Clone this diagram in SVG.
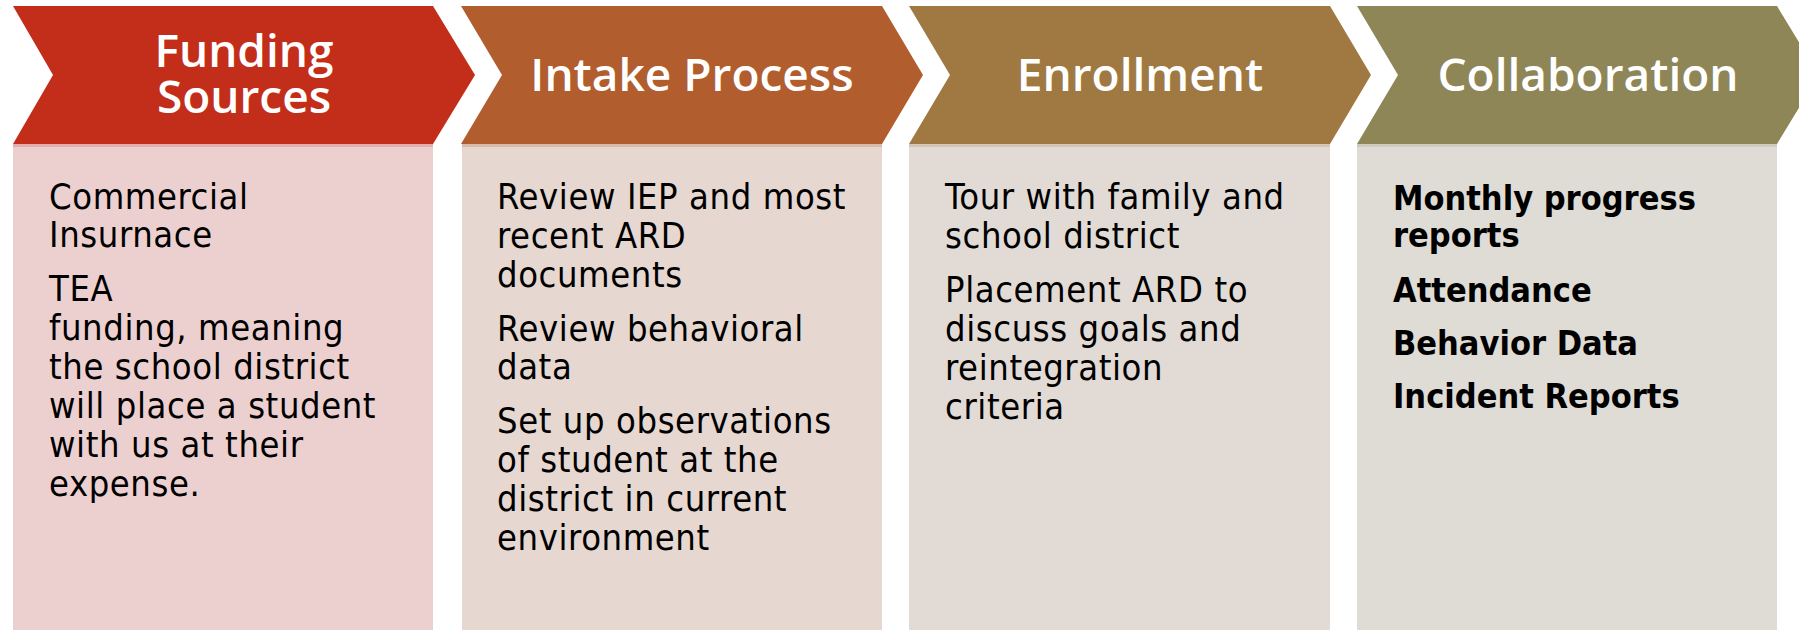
<svg xmlns="http://www.w3.org/2000/svg" width="1799" height="630" viewBox="0 0 1799 630">
<style>
.hd{font-family:"Open Sans","Noto Sans","Liberation Sans",sans-serif;font-weight:600;font-size:46px;fill:#FFFFFF;text-anchor:middle}
.bt{font-family:"DejaVu Sans Condensed","DejaVu Sans","Liberation Sans",sans-serif;font-size:36px;letter-spacing:0.6px;fill:#000000}
.bb{font-family:"DejaVu Sans Condensed","DejaVu Sans","Liberation Sans",sans-serif;font-weight:bold;font-size:34px;fill:#000000}
</style>
<rect width="1799" height="630" fill="#FFFFFF"/>
<g id="connectors"/>
<g id="node-funding">
  <rect x="13" y="144" width="420" height="486" fill="#ECD0D0"/>
  <rect x="13" y="144" width="420" height="3" fill="#E3AFAA"/>
  <polygon points="13,6 433,6 475,75 433,144 13,144 53,75" fill="#C32E1A"/>
  <text class="hd"><tspan x="244" y="67">Funding</tspan><tspan x="244" y="113">Sources</tspan></text>
  <text class="bt" x="49" y="209">Commercial</text>
  <text class="bt" x="49" y="247">Insurnace</text>
  <text class="bt" x="49" y="301">TEA</text>
  <text class="bt" x="49" y="340">funding, meaning</text>
  <text class="bt" x="49" y="379">the school district</text>
  <text class="bt" x="49" y="418">will place a student</text>
  <text class="bt" x="49" y="457">with us at their</text>
  <text class="bt" x="49" y="496">expense.</text>
</g>
<g id="node-intake">
  <rect x="462" y="144" width="420" height="486" fill="#E6D7D0"/>
  <rect x="462" y="144" width="420" height="3" fill="#D9BBA9"/>
  <polygon points="461,6 882,6 923,75 882,144 461,144 502,75" fill="#B15D2E"/>
  <text class="hd" x="692" y="91">Intake Process</text>
  <text class="bt" x="497" y="209">Review IEP and most</text>
  <text class="bt" x="497" y="248">recent ARD</text>
  <text class="bt" x="497" y="287">documents</text>
  <text class="bt" x="497" y="341">Review behavioral</text>
  <text class="bt" x="497" y="379">data</text>
  <text class="bt" x="497" y="433">Set up observations</text>
  <text class="bt" x="497" y="472">of student at the</text>
  <text class="bt" x="497" y="511">district in current</text>
  <text class="bt" x="497" y="550">environment</text>
</g>
<g id="node-enrollment">
  <rect x="909" y="144" width="421" height="486" fill="#E2DAD4"/>
  <rect x="909" y="144" width="421" height="3" fill="#D5C5B2"/>
  <polygon points="909,6 1330,6 1371,75 1330,144 909,144 950,75" fill="#A07942"/>
  <text class="hd" x="1140" y="91">Enrollment</text>
  <text class="bt" x="945" y="209">Tour with family and</text>
  <text class="bt" x="945" y="248">school district</text>
  <text class="bt" x="945" y="302">Placement ARD to</text>
  <text class="bt" x="945" y="341">discuss goals and</text>
  <text class="bt" x="945" y="380">reintegration</text>
  <text class="bt" x="945" y="419">criteria</text>
</g>
<g id="node-collaboration">
  <rect x="1357" y="144" width="420" height="486" fill="#DEDCD5"/>
  <rect x="1357" y="144" width="420" height="3" fill="#CFCBBD"/>
  <polygon points="1357,6 1777,6 1819,75 1777,144 1357,144 1398,75" fill="#8F8657"/>
  <text class="hd" x="1588" y="91">Collaboration</text>
  <text class="bb" x="1393" y="210">Monthly progress</text>
  <text class="bb" x="1393" y="247">reports</text>
  <text class="bb" x="1393" y="302">Attendance</text>
  <text class="bb" x="1393" y="355">Behavior Data</text>
  <text class="bb" x="1393" y="408">Incident Reports</text>
</g>
</svg>
